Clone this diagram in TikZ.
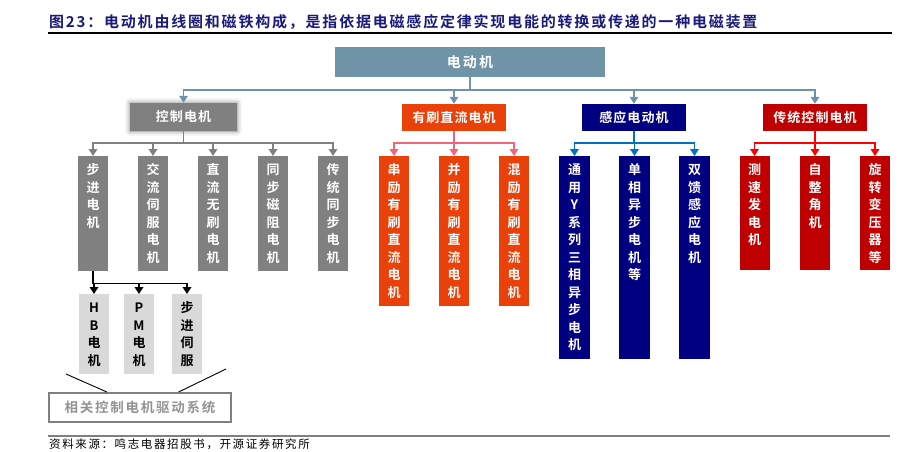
\documentclass[tikz,border=0pt]{standalone}
\usepackage{fontspec}
\setmainfont{Noto Sans CJK SC}[BoldFont={* Bold}]
\usetikzlibrary{arrows.meta,calc,shadows.blur}

\definecolor{motor-steel}{RGB}{112,148,167}
\definecolor{ctl-gray}{RGB}{128,128,128}
\definecolor{dc-orange}{RGB}{234,65,10}
\definecolor{dc-pink}{RGB}{242,100,122}
\definecolor{ind-navy}{RGB}{0,0,128}
\definecolor{ind-blue}{RGB}{0,112,192}
\definecolor{trad-red}{RGB}{192,0,0}
\definecolor{trad-line}{RGB}{255,0,0}
\definecolor{drive-gray}{RGB}{217,217,217}
\definecolor{title-navy}{RGB}{26,26,120}

\newcommand{\colstack}[2]{\parbox[c][#1][t]{30pt}{\centering\vspace{6.5pt}\strut#2}}

\begin{document}
\begin{tikzpicture}[x=1pt, y=-1pt,
    every node/.style={inner sep=0pt},
    head/.style={minimum width=104pt, minimum height=27pt, text=white,
        font=\bfseries\fontsize{13}{15}\selectfont\addfontfeature{LetterSpace=8}},
    col/.style={anchor=north, minimum width=30pt, text=white,
        font=\bfseries\fontsize{13}{17.5}\selectfont},
    link/.style={line width=1.7pt, -{Triangle[width=8.5pt,length=7pt]}},
]

    \useasboundingbox (0,0) rectangle (906,452);

    % Title
    \node[anchor=west, text=title-navy,
        font=\bfseries\fontsize{15}{18}\selectfont\addfontfeature{LetterSpace=12}]
        (title) at (49,22) {图23：电动机由线圈和磁铁构成，是指依据电磁感应定律实现电能的转换或传递的一种电磁装置};
    \draw[line width=1.3pt] (48,33) -- (892,33);

    % Root: 电动机
    \node[head, fill=motor-steel, minimum width=270pt, minimum height=30pt,
        font=\bfseries\fontsize{14}{16}\selectfont\addfontfeature{LetterSpace=16}]
        (motor) at (470,62) {电动机};

    % Group 1: 控制电机
    \node[head, fill=ctl-gray, minimum width=107pt, minimum height=28pt,
        blur shadow={shadow xshift=0pt, shadow yshift=0pt, shadow blur radius=5pt, shadow opacity=50}]
        (ctl) at (183.5,117) {控制电机};
    \draw[link, motor-steel] (motor.south) -- ++(0,13) -| (ctl.north);
    \foreach \x/\t [count=\i] in {93/{步\\进\\电\\机}, 153/{交\\流\\伺\\服\\电\\机},
        213/{直\\流\\无\\刷\\电\\机}, 273/{同\\步\\磁\\阻\\电\\机}, 333/{传\\统\\同\\步\\电\\机}} {
        \node[col, fill=ctl-gray] (ctl\i) at (\x,156) {\colstack{115pt}{\t}};
        \draw[link, ctl-gray] (ctl.south) -- ++(0,12) -| (ctl\i.north);
    }

    % Drives under 步进电机
    \foreach \x/\t [count=\i] in {94/{H\\B\\电\\机}, 139/{P\\M\\电\\机}, 187/{步\\进\\伺\\服}} {
        \node[col, fill=drive-gray, text=black] (drv\i) at (\x,294) {\colstack{80pt}{\t}};
        \draw[link, black] (ctl1.south) -- ++(0,12) -| (drv\i.north);
    }
    \node[draw=ctl-gray, line width=2pt, minimum width=182pt, minimum height=29pt, text=ctl-gray!85,
        font=\bfseries\fontsize{13.5}{16}\selectfont\addfontfeature{LetterSpace=13}]
        (sys) at (140,407.5) {相关控制电机驱动系统};
    \coordinate (sysl) at (66,374);
    \coordinate (sysr) at (226,369);
    \draw[line width=0.9pt] (sysl) -- ($(sys.north west)!0.32!(sys.north east)$);
    \draw[line width=0.9pt] (sysr) -- ($(sys.north west)!0.71!(sys.north east)$);

    % Group 2: 有刷直流电机
    \node[head, fill=dc-orange] (dc) at (454,117.5) {有刷直流电机};
    \draw[link, motor-steel] (motor.south) -- ++(0,13) -| (dc.north);
    \foreach \x/\t [count=\i] in {394/{串\\励\\有\\刷\\直\\流\\电\\机},
        454/{并\\励\\有\\刷\\直\\流\\电\\机}, 514/{混\\励\\有\\刷\\直\\流\\电\\机}} {
        \node[col, fill=dc-orange] (dc\i) at (\x,156) {\colstack{150pt}{\t}};
        \draw[link, dc-pink] (dc.south) -- ++(0,12) -| (dc\i.north);
    }

    % Group 3: 感应电动机
    \node[head, fill=ind-navy] (ind) at (634,117.5) {感应电动机};
    \draw[link, motor-steel] (motor.south) -- ++(0,13) -| (ind.north);
    \foreach \x/\t [count=\i] in {574.5/{通\\用\\Y\\系\\列\\三\\相\\异\\步\\电\\机},
        634.5/{单\\相\\异\\步\\电\\机\\等}, 694.5/{双\\馈\\感\\应\\电\\机}} {
        \node[col, fill=ind-navy, minimum width=31pt] (ind\i) at (\x,156) {\colstack{203pt}{\t}};
        \draw[link, ind-blue] (ind.south) -- ++(0,12) -| (ind\i.north);
    }

    % Group 4: 传统控制电机
    \node[head, fill=trad-red] (trad) at (815,117.5) {传统控制电机};
    \draw[link, motor-steel] (motor.south) -- ++(0,13) -| (trad.north);
    \foreach \x/\t [count=\i] in {754.5/{测\\速\\发\\电\\机}, 815/{自\\整\\角\\机},
        875/{旋\\转\\变\\压\\器\\等}} {
        \node[col, fill=trad-red] (trad\i) at (\x,156) {\colstack{114pt}{\t}};
        \draw[link, trad-line] (trad.south) -- ++(0,12) -| (trad\i.north);
    }

    % Source
    \draw[ctl-gray, line width=1.2pt] (48,436) -- (890,436);
    \node[anchor=west, font=\fontsize{11.5}{14}\selectfont\addfontfeature{LetterSpace=14}]
        (src) at (49,444.5) {资料来源：鸣志电器招股书，开源证券研究所};

\end{tikzpicture}
\end{document}
